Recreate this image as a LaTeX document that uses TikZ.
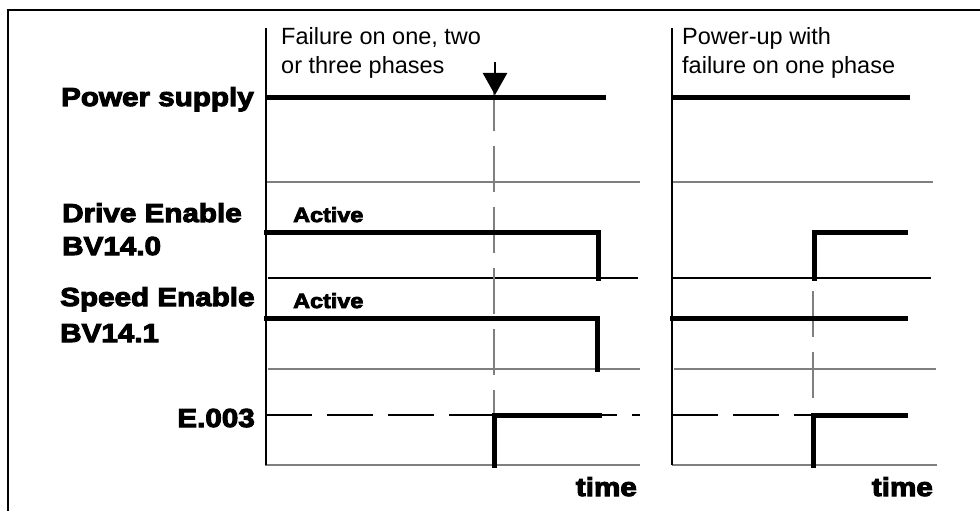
\documentclass[tikz,border=0pt]{standalone}
\usepackage{fontspec}
\setmainfont{Liberation Sans}
\newfontfamily\heavy{Liberation Sans}[UprightFont={* Bold}, FakeBold=4, FakeStretch=1.14]
\usetikzlibrary{arrows.meta}
\definecolor{gridgray}{HTML}{7F7F7F}
\tikzset{
  sig/.style={line width=5pt, line cap=rect, line join=miter},
  axisline/.style={line width=1.2pt, black},
  grayline/.style={line width=1.4pt, gridgray},
  blackline/.style={line width=1.1pt, black},
  longdash/.style={line width=1.2pt, dash pattern=on 46pt off 15pt},
  vdash/.style={line width=1.3pt, gridgray, dash pattern=on 46pt off 15pt},
  lbl/.style={inner sep=0pt, font=\heavy\fontsize{26}{30}\selectfont},
  act/.style={inner sep=0pt, font=\heavy\fontsize{20.5}{24}\selectfont},
  note/.style={inner sep=0pt, font=\fontsize{23.5}{30}\selectfont, align=left},
}
\begin{document}
\begin{tikzpicture}[x=1pt,y=-1pt]
\useasboundingbox (0,0) rectangle (980,511);
% frame
\draw[line width=1.5pt] (8,511) -- (8,10) -- (980,10);

% ===== left panel =====
\draw[grayline] (265,182) -- (640,182);
\draw[blackline] (268,278) -- (638,278);
\draw[grayline] (268,369) -- (640,369);
\draw[grayline] (265,465) -- (640,465);
\draw[axisline] (266,28) -- (266,465);
% failure instant
\draw[vdash] (494,85) -- (494,465);
\draw[line width=2.5pt, -{Triangle[width=24pt,length=22pt]}] (495,62) -- (495,95);
% E.003 dashed reference level
\draw[longdash] (266,415) -- (640,415);
% signals
\draw[sig] (268,97) -- (603,97);
\draw[sig] (266,232) -- (598,232) -- (598,278);
\draw[sig] (266,318) -- (597,318) -- (597,369);
\draw[sig] (494,465) -- (494,415) -- (599,415);

% ===== right panel =====
\draw[grayline] (672,182) -- (933,182);
\draw[blackline] (672,278) -- (931,278);
\draw[grayline] (674,369) -- (936,369);
\draw[grayline] (672,465) -- (937,465);
\draw[axisline] (672,28) -- (672,465);
\draw[vdash] (813,230) -- (813,398);
\draw[longdash] (672,415) -- (813,415);
\draw[sig] (674,97) -- (907,97);
\draw[sig] (814,278) -- (814,232) -- (905,232);
\draw[sig] (672,318) -- (905,318);
\draw[sig] (813,465) -- (813,415) -- (905,415);

% ===== texts =====
\node[note, anchor=base west] (t1) at (281,45) {Failure on one, two};
\node[note, anchor=base west] (t2) at (281,74) {or three phases};
\node[note, anchor=base west] (t3) at (682,45) {Power-up with};
\node[note, anchor=base west] (t4) at (682,74) {failure on one phase};

\node[lbl, anchor=base east] (ps) at (254,106) {Power supply};
\node[lbl, anchor=base west] (de) at (62,222) {Drive Enable};
\node[lbl, anchor=base west] (bv0) at (62,255) {BV14.0};
\node[lbl, anchor=base west] (se) at (60,306) {Speed Enable};
\node[lbl, anchor=base west] (bv1) at (60,342) {BV14.1};
\node[lbl, anchor=base east] (e3) at (255,427) {E.003};

\node[act, anchor=base west] (a1) at (293,222) {Active};
\node[act, anchor=base west] (a2) at (293,308) {Active};

\node[lbl, anchor=base east] (tm1) at (637,496) {time};
\node[lbl, anchor=base east] (tm2) at (933,496) {time};
\end{tikzpicture}
\end{document}
